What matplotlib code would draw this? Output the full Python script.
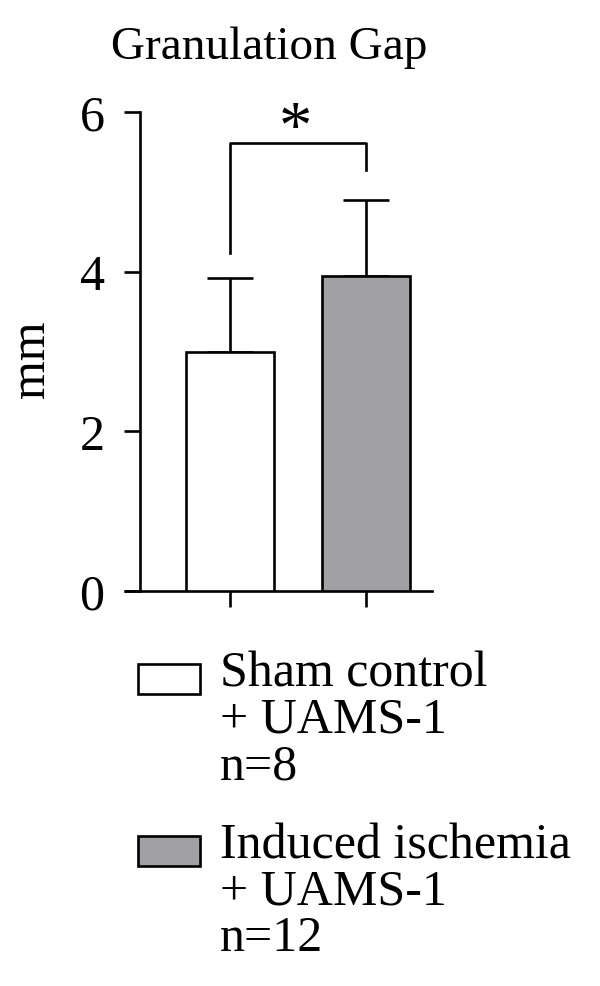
import matplotlib
matplotlib.use("Agg")
import matplotlib.pyplot as plt
from matplotlib.patches import Rectangle

# Data
groups = ["Sham control\n+ UAMS-1\nn=8", "Induced ischemia\n+ UAMS-1\nn=12"]
means = [3.0, 3.95]
sem_upper = [0.92, 0.95]
colors = ["#ffffff", "#a0a0a4"]
yticks = [0, 2, 4, 6]
title = "Granulation Gap"
ylabel = "mm"
sig_label = "*"
bracket_y = 5.61
bracket_legs = [4.24, 5.27]

FONT = "Liberation Serif"
FS = 36
LW = 1.9
plt.rcParams["font.family"] = [FONT, "DejaVu Serif"]

fig = plt.figure(figsize=(6.0, 9.87), dpi=100)
L, R, B, T = 140 / 600, 432 / 600, 1 - 592 / 987, 1 - 113 / 987
ax = fig.add_axes([L, B, R - L, T - B])

x = list(range(len(means)))
ax.errorbar(x, means, yerr=[[0] * len(means), sem_upper], fmt="none",
            ecolor="black", elinewidth=LW, capsize=16.5, capthick=LW, zorder=2)
ax.bar(x, means, width=0.65, color=colors, edgecolor="black", linewidth=LW, zorder=3)

ax.set_xlim(-0.662, 1.485)
ax.set_ylim(0, 6)
ax.set_yticks(yticks)
ax.set_yticklabels([str(v) for v in yticks], fontsize=FS)
ax.set_xticks(x)
ax.set_xticklabels([])
for s in ["top", "right"]:
    ax.spines[s].set_visible(False)
for s in ["left", "bottom"]:
    ax.spines[s].set_linewidth(LW)
ax.tick_params(axis="both", direction="out", length=11.5, width=LW, pad=14)

# extend x-axis line to left to meet tick ends
ax.plot([-0.662 - 16 / 136, -0.662], [0, 0], color="black", lw=LW,
        clip_on=False, solid_capstyle="butt")

ax.set_ylabel(ylabel, fontsize=FS)
ax.yaxis.set_label_coords(-0.29, 0.486)

# significance bracket
ax.plot([x[0], x[0], x[1], x[1]], [bracket_legs[0], bracket_y, bracket_y, bracket_legs[1]],
        color="black", lw=LW, clip_on=False)
ax.text((x[0] + x[1]) / 2 - 0.02, 5.58, sig_label, ha="center", va="baseline",
        fontsize=48)

fig.text(269 / 600, 1 - 59 / 987, title, ha="center", va="baseline", fontsize=34)

# legend
entry_tops = [665, 837]
for lab, col, top in zip(groups, colors, entry_tops):
    fig.patches.append(Rectangle((138 / 600, 1 - (top + 30) / 987), 62 / 600, 30 / 987,
                                 transform=fig.transFigure, facecolor=col,
                                 edgecolor="black", linewidth=LW))
    fig.text(220 / 600, 1 - (top - 14) / 987, lab, ha="left", va="top",
             fontsize=FS, linespacing=1.0)

fig.savefig("out.png", dpi=100)
